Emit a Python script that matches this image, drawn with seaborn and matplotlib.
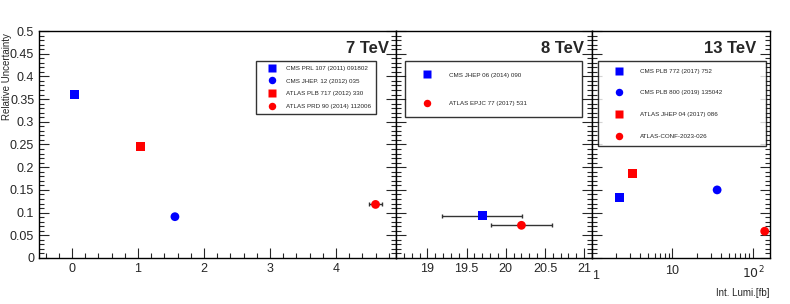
import numpy as np
import pandas as pd
import seaborn as sns
import matplotlib.pyplot as plt
from matplotlib.ticker import MultipleLocator, AutoMinorLocator, LogLocator, FuncFormatter, NullFormatter

# 7 TeV
lumi_7 = [0.036, 1.56, 1.04, 4.6]
unc_7 = [0.36, 0.091, 0.246, 0.118]
xerr_7 = [0.0, 0.0, 0.0, 0.1]
ref_7 = ["CMS PRL 107 (2011) 091802", "CMS JHEP. 12 (2012) 035",
         "ATLAS PLB 717 (2012) 330", "ATLAS PRD 90 (2014) 112006"]
exp_7 = ["CMS", "CMS", "ATLAS", "ATLAS"]
mk_7 = ["s", "o", "s", "o"]

# 8 TeV
lumi_8 = [19.7, 20.2]
unc_8 = [0.093, 0.072]
xerr_8 = [0.51, 0.39]
ref_8 = ["CMS JHEP 06 (2014) 090", "ATLAS EPJC 77 (2017) 531"]
exp_8 = ["CMS", "ATLAS"]
mk_8 = ["s", "o"]

# 13 TeV
lumi_13 = [2.2, 35.9, 3.2, 140]
unc_13 = [0.134, 0.150, 0.186, 0.059]
ref_13 = ["CMS PLB 772 (2017) 752", "CMS PLB 800 (2019) 135042",
          "ATLAS JHEP 04 (2017) 086", "ATLAS-CONF-2023-026"]
exp_13 = ["CMS", "CMS", "ATLAS", "ATLAS"]
mk_13 = ["s", "o", "s", "o"]

colors = {"CMS": "#0000ff", "ATLAS": "#ff0000"}

sns.set_style("ticks")
plt.rcParams['font.family'] = ['Liberation Sans', 'DejaVu Sans']

fig = plt.figure(figsize=(7.9, 3.04), dpi=100)
ax1 = fig.add_axes([39 / 790, 46 / 304, 357 / 790, 227 / 304])
ax2 = fig.add_axes([396 / 790, 46 / 304, 196 / 790, 227 / 304])
ax3 = fig.add_axes([592 / 790, 46 / 304, 178 / 790, 227 / 304])


def draw_panel(ax, lumi, unc, refs, exps, markers, xerr=None):
    df = pd.DataFrame({"lumi": lumi, "unc": unc, "ref": refs, "exp": exps})
    if xerr is not None:
        for x, y, e in zip(lumi, unc, xerr):
            if e > 0:
                ax.errorbar(x, y, xerr=e, fmt="none", ecolor="#333333",
                            elinewidth=1.0, capsize=1.5, capthick=1.0, zorder=2)
    sns.scatterplot(data=df, x="lumi", y="unc", hue="ref", style="ref",
                    palette=[colors[e] for e in exps], markers=markers,
                    s=40, edgecolor="none", ax=ax, zorder=3)
    ax.set_xlabel("")
    ax.set_ylabel("")
    ax.set_ylim(0, 0.5)
    ax.yaxis.set_major_locator(MultipleLocator(0.05))
    ax.yaxis.set_minor_locator(AutoMinorLocator(5))
    ax.yaxis.set_major_formatter(FuncFormatter(lambda v, _: f"{v:g}"))
    ax.tick_params(which="both", direction="in", top=False, right=True,
                   labelsize=9, width=0.8)
    ax.tick_params(which="major", length=7)
    ax.tick_params(which="minor", length=3.5)
    for sp in ax.spines.values():
        sp.set_linewidth(1.0)
        sp.set_color("black")


def make_legend(ax, bbox, spacing, pad, hl, htp):
    leg = ax.legend(loc="upper left", bbox_to_anchor=bbox, mode="expand",
                    fontsize=4.5, frameon=True, fancybox=False,
                    edgecolor="black", labelspacing=spacing,
                    handlelength=hl, handletextpad=htp, borderpad=pad,
                    borderaxespad=0, markerscale=0.85)
    leg.get_frame().set_linewidth(1.0)


draw_panel(ax1, lumi_7, unc_7, ref_7, exp_7, mk_7, xerr_7)
ax1.set_xlim(-0.5, 4.91)
ax1.xaxis.set_major_locator(MultipleLocator(1))
ax1.xaxis.set_minor_locator(AutoMinorLocator(5))
ax1.set_ylabel("Relative Uncertainty", fontsize=7)
ax1.yaxis.set_label_coords(-0.076, 0.8)
ax1.text(0.98, 0.925, "7 TeV", transform=ax1.transAxes, ha="right",
         va="center", fontsize=12, fontweight="bold")
make_legend(ax1, (0.608, 0.868, 0.336, 0.0), 1.2, 0.7, 3.7, 0.4)

draw_panel(ax2, lumi_8, unc_8, ref_8, exp_8, mk_8, xerr_8)
ax2.set_xlim(18.6, 21.1)
ax2.xaxis.set_major_locator(MultipleLocator(0.5))
ax2.xaxis.set_minor_locator(AutoMinorLocator(5))
ax2.xaxis.set_major_formatter(FuncFormatter(lambda v, _: f"{v:g}"))
ax2.set_yticklabels([])
ax2.text(0.96, 0.925, "8 TeV", transform=ax2.transAxes, ha="right",
         va="center", fontsize=12, fontweight="bold")
make_legend(ax2, (0.046, 0.868, 0.903, 0.0), 3.7, 1.8, 3.44, 1.8)

draw_panel(ax3, lumi_13, unc_13, ref_13, exp_13, mk_13)
ax3.set_xscale("log")
ax3.set_xlim(1, 163)
ax3.xaxis.set_major_locator(LogLocator(base=10))
ax3.xaxis.set_minor_locator(LogLocator(base=10, subs=np.arange(2, 10)))
ax3.xaxis.set_minor_formatter(NullFormatter())
ax3.xaxis.set_major_formatter(FuncFormatter(
    lambda v, _: {10: "10", 100: r"$10^2$"}.get(int(round(v)), "")))
# the "1" label sits a little lower, as ROOT draws it
ax3.text(1.0, -0.055, "1", transform=ax3.get_xaxis_transform(),
         ha="left", va="top", fontsize=9)
ax3.set_yticklabels([])
ax3.tick_params(axis="x", which="minor", length=3.5)
ax3.tick_params(axis="x", which="major", pad=5)
ax3.text(0.92, 0.925, "13 TeV", transform=ax3.transAxes, ha="right",
         va="center", fontsize=12, fontweight="bold")
make_legend(ax3, (0.034, 0.868, 0.944, 0.0), 2.6, 1.2, 4.32, 1.2)
ax3.set_xlabel("Int. Lumi.[fb]", fontsize=7)
ax3.xaxis.set_label_coords(1.0, -0.13)
ax3.xaxis.label.set_horizontalalignment("right")

fig.savefig("out.png", dpi=100)
